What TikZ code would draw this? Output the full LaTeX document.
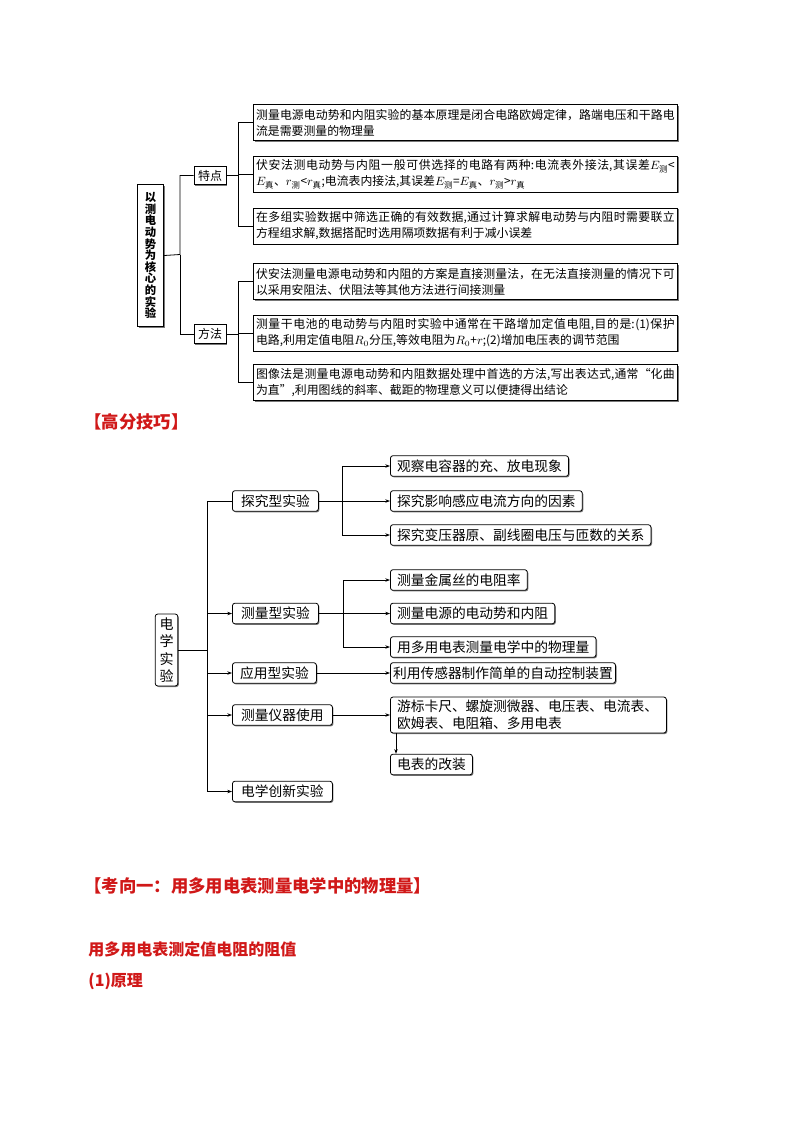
\documentclass[tikz,border=0pt]{standalone}
\usepackage{amsmath}
\usepackage{fontspec}
\setmainfont{Noto Sans CJK SC}
\usepackage{xcolor}
\definecolor{kpred}{RGB}{208,24,24}
\definecolor{kpshadow}{RGB}{120,120,120}
\usetikzlibrary{arrows.meta, positioning, shadows}
\XeTeXlinebreaklocale "zh"
\XeTeXlinebreakskip=0pt plus 1pt

\begin{document}
\begin{tikzpicture}[x=0.75pt, y=-0.75pt, line width=0.6pt,
  sqbox/.style={draw, fill=white, inner sep=1pt,
    drop shadow={shadow xshift=1pt, shadow yshift=-1pt, fill=kpshadow, opacity=1}},
  notebox/.style={sqbox, anchor=west, text width=314pt, align=justify,
    minimum height=27pt, inner xsep=2pt, font=\fontsize{8.9}{12}\selectfont},
  rbox/.style={draw, fill=white, rounded corners=2pt, anchor=west,
    minimum height=15.5pt, inner xsep=5pt, inner ysep=1pt,
    font=\fontsize{10.3}{13}\selectfont,
    drop shadow={shadow xshift=0.8pt, shadow yshift=-0.8pt, fill=kpshadow, opacity=1}},
  arr/.style={-{Stealth[length=3.5pt,width=2.6pt]}},
  hd/.style={anchor=west, inner sep=0pt, text=kpred, font=\fontsize{13}{15}\selectfont\bfseries}]

  \useasboundingbox (0,0) rectangle (794,1122);

  % --- Top map: EMF experiment ---
  \node[sqbox, minimum width=20pt, minimum height=107pt, align=center,
        font=\fontsize{8.5}{8.7}\selectfont\bfseries] (exp) at (150.5,255.5)
        {以\\测\\电\\动\\势\\为\\核\\心\\的\\实\\验};
  \node[sqbox, minimum width=24pt, minimum height=14pt, font=\fontsize{9}{11}\selectfont] (tedian) at (210,175.5) {特点};
  \node[sqbox, minimum width=24pt, minimum height=14pt, font=\fontsize{9}{11}\selectfont] (fangfa) at (210,334) {方法};
  % notes
  \node[notebox] (n1) at (253,122.5) {测量电源电动势和内阻实验的基本原理是闭合电路欧姆定律，路端电压和干路电\linebreak 流是需要测量的物理量};
  \node[notebox] (n2) at (253,174) {伏安法测电动势与内阻一般可供选择的电路有两种:电流表外接法,其误差$E_{\text{测}}$<\linebreak $E_{\text{真}}$、$r_{\text{测}}$<$r_{\text{真}}$;电流表内接法,其误差$E_{\text{测}}$=$E_{\text{真}}$、$r_{\text{测}}$>$r_{\text{真}}$};
  \node[notebox] (n3) at (253,226) {在多组实验数据中筛选正确的有效数据,通过计算求解电动势与内阻时需要联立\linebreak 方程组求解,数据搭配时选用隔项数据有利于减小误差};
  \node[notebox] (n4) at (253,281.5) {伏安法测量电源电动势和内阻的方案是直接测量法，在无法直接测量的情况下可\linebreak 以采用安阻法、伏阻法等其他方法进行间接测量};
  \node[notebox] (n5) at (253,333) {测量干电池的电动势与内阻时实验中通常在干路增加定值电阻,目的是:(1)保护\linebreak 电路,利用定值电阻$R_0$分压,等效电阻为$R_0$+$r$;(2)增加电压表的调节范围};
  \node[notebox] (n6) at (253,382.5) {图像法是测量电源电动势和内阻数据处理中首选的方法,写出表达式,通常“化曲\linebreak 为直”,利用图线的斜率、截距的物理意义可以便捷得出结论};
  % connectors
  \coordinate (j0) at (180,254.5);
  \draw (exp.east) -- (j0) |- (tedian.west);
  \draw (j0) |- (fangfa.west);
  \draw (tedian.east) -- ++(12,0) coordinate (j1);
  \foreach \n in {n1,n2,n3} \draw (j1) |- (\n.west);
  \draw (fangfa.east) -- ++(12,0) coordinate (j2);
  \foreach \n in {n4,n5,n6} \draw (j2) |- (\n.west);

  \node[hd] (gfjq) at (84,422) {【高分技巧】};

  % --- Bottom map: electrical experiments ---
  \node[rbox, anchor=center, minimum width=17pt, minimum height=54pt, inner xsep=2pt,
        align=center, font=\fontsize{10.5}{13}\selectfont] (elec) at (166.5,650) {电\\学\\实\\验};
  \node[rbox, minimum width=64.5pt] (tj) at (232,501) {探究型实验};
  \node[rbox, minimum width=64.5pt] (cl) at (232,613.5) {测量型实验};
  \node[rbox, minimum width=63pt] (yy) at (232,673) {应用型实验};
  \node[rbox, minimum width=75pt] (yq) at (232,715) {测量仪器使用};
  \node[rbox, minimum width=75pt] (cx) at (232,791.5) {电学创新实验};
  % leaves
  \node[rbox] (tj1) at (390,466) {观察电容器的充、放电现象};
  \node[rbox] (tj2) at (390,501) {探究影响感应电流方向的因素};
  \node[rbox] (tj3) at (390,535) {探究变压器原、副线圈电压与匝数的关系};
  \node[rbox] (cl1) at (390,580) {测量金属丝的电阻率};
  \node[rbox] (cl2) at (390,613.5) {测量电源的电动势和内阻};
  \node[rbox] (cl3) at (390,647) {用多用电表测量电学中的物理量};
  \node[rbox, inner xsep=2pt] (yy1) at (390,673) {利用传感器制作简单的自动控制装置};
  \node[rbox, text width=197pt, align=left, minimum height=27pt] (yq1) at (390,715)
        {游标卡尺、螺旋测微器、电压表、电流表、\\欧姆表、电阻箱、多用电表};
  \node[rbox] (yq2) at (390,764.5) {电表的改装};
  % connectors
  \coordinate (j3) at (207,650);
  \draw (elec.east) -- (j3) |- (tj.west);
  \foreach \n in {cl,yy,yq,cx} \draw[arr] (j3) |- (\n.west);
  \draw (tj.east) -- ++(24,0) coordinate (j4);
  \foreach \n in {tj1,tj2,tj3} \draw[arr] (j4) |- (\n.west);
  \draw (cl.east) -- ++(25,0) coordinate (j5);
  \foreach \n in {cl1,cl2,cl3} \draw[arr] (j5) |- (\n.west);
  \draw[arr] (yy.east) -- (yy1.west);
  \draw[arr] (yq.east) -- (yq1.west);
  \draw[arr] ([xshift=4.5pt]yq1.south west) -- ([xshift=4.5pt]yq2.north west);

  % --- Headings below ---
  \node[hd] (kxy) at (84,886) {【考向一：用多用电表测量电学中的物理量】};
  \node[hd, font=\fontsize{12}{14}\selectfont\bfseries] (dzz) at (88,949) {用多用电表测定值电阻的阻值};
  \node[hd, font=\fontsize{12}{14}\selectfont\bfseries] (yl) at (88,981) {(1)原理};
\end{tikzpicture}
\end{document}
